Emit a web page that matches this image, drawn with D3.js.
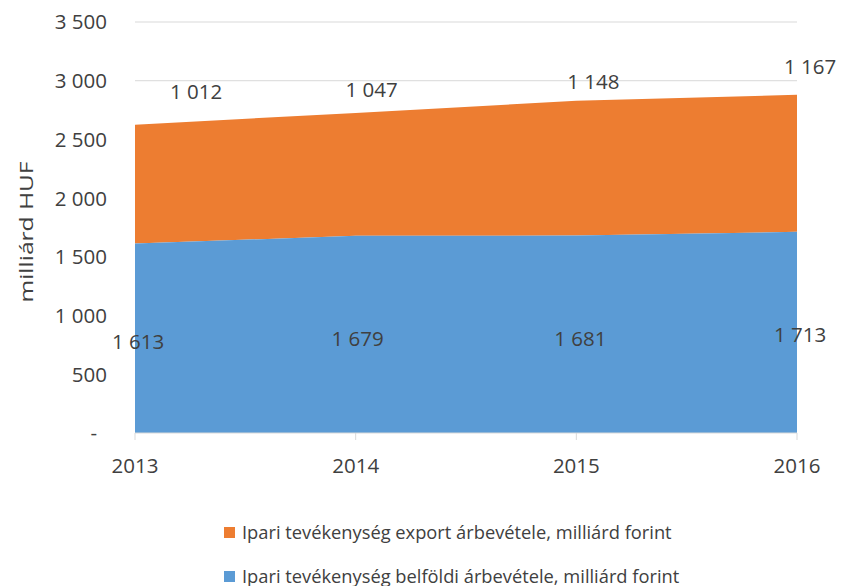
<!DOCTYPE html>
<html>
<head>
<meta charset="utf-8">
<script src="https://cdnjs.cloudflare.com/ajax/libs/d3/7.8.5/d3.min.js"></script>
<style>
  body { margin: 0; background: #fff; }
  #chart { width: 841px; height: 586px; }
  text { font-family: "Open Sans", "Noto Sans", sans-serif; fill: #404040; }
</style>
</head>
<body>
<div id="chart"></div>
<script>
const years = ["2013", "2014", "2015", "2016"],
    belfoldi = [1613, 1679, 1681, 1713],
    exportRev = [1012, 1047, 1148, 1167],
    yTicks = [0, 500, 1000, 1500, 2000, 2500, 3000, 3500],
    seriesNames = [
      "Ipari tevékenység export árbevétele, milliárd forint",
      "Ipari tevékenység belföldi árbevétele, milliárd forint"
    ],
    colors = ["#ED7D31", "#5B9BD5"],
    // where Excel put the export labels (in data units)
    exportLabelAt = [2905, 2922, 2990, 3118];

const width = 841, height = 586;
const fmt = (v) => v === 0 ? "-" : d3.format(",")(v).replace(/,/g, " ");

const svg = d3.select("#chart").append("svg")
    .attr("width", width)
    .attr("height", height);

const x = d3.scalePoint().domain(years).range([135, 797]);
const y = d3.scaleLinear().domain([0, 3500]).range([433, 22]);

// gridlines
svg.append("g")
  .selectAll("line")
  .data(yTicks.filter(d => d > 0))
  .enter().append("line")
    .attr("x1", 135).attr("x2", 797)
    .attr("y1", d => y(d)).attr("y2", d => y(d))
    .attr("stroke", "#d9d9d9").attr("stroke-width", 1);

const rows = years.map((yr, i) => ({ yr, b: belfoldi[i], e: exportRev[i] }));

const areaB = d3.area()
    .x(d => x(d.yr))
    .y0(y(0))
    .y1(d => y(d.b));

const areaE = d3.area()
    .x(d => x(d.yr))
    .y0(d => y(d.b))
    .y1(d => y(d.b + d.e));

svg.append("path").datum(rows).attr("d", areaE).attr("fill", colors[0]);
svg.append("path").datum(rows).attr("d", areaB).attr("fill", colors[1]);

// x axis
const xAxis = svg.append("g").attr("transform", "translate(0,433)");
xAxis.append("line").attr("x1", 135).attr("x2", 797)
    .attr("stroke", "#d9d9d9");
xAxis.selectAll(".tick")
  .data(years)
  .enter().append("line")
    .attr("x1", d => x(d)).attr("x2", d => x(d))
    .attr("y1", 0).attr("y2", 7)
    .attr("stroke", "#d9d9d9");
xAxis.selectAll("text")
  .data(years)
  .enter().append("text")
    .attr("x", d => x(d)).attr("y", 40)
    .attr("text-anchor", "middle")
    .style("font-size", "20.5px")
    .text(d => d);

// y axis labels
svg.append("g")
  .selectAll("text")
  .data(yTicks)
  .enter().append("text")
    .attr("x", d => d === 0 ? 97 : 107)
    .attr("y", d => y(d))
    .attr("dy", "0.36em")
    .attr("text-anchor", "end")
    .style("font-size", "20.5px")
    .text(fmt);

svg.append("text")
    .attr("transform", "translate(33,232) rotate(-90)")
    .attr("text-anchor", "middle")
    .attr("textLength", 141)
    .attr("lengthAdjust", "spacingAndGlyphs")
    .style("font-size", "19px")
    .text("milliárd HUF");

// data labels
const labelDx = [61, 16, 17, 13];
svg.append("g")
  .selectAll("text")
  .data(rows)
  .enter().append("text")
    .attr("x", (d, i) => x(d.yr) + labelDx[i])
    .attr("y", (d, i) => y(exportLabelAt[i]))
    .attr("dy", "0.36em")
    .attr("text-anchor", "middle")
    .style("font-size", "20.5px")
    .text(d => fmt(d.e));

svg.append("g")
  .selectAll("text")
  .data(rows)
  .enter().append("text")
    .attr("x", (d, i) => x(d.yr) + [3, 2, 4, 3][i])
    .attr("y", (d, i) => y(d.b / 2) + [3, 4, 4, 2][i])
    .attr("dy", "0.36em")
    .attr("text-anchor", "middle")
    .style("font-size", "20.5px")
    .text(d => fmt(d.b));

// legend
const legend = svg.append("g")
  .selectAll("g")
  .data(seriesNames)
  .enter().append("g")
    .attr("transform", (d, i) => `translate(224,${532 + i * 44})`);
legend.append("rect")
    .attr("x", 0).attr("y", -5)
    .attr("width", 11).attr("height", 11)
    .attr("fill", (d, i) => colors[i]);
legend.append("text")
    .attr("x", 18).attr("y", 0)
    .attr("dy", "0.36em")
    .style("font-size", "18.3px")
    .text(d => d);
</script>
</body>
</html>
